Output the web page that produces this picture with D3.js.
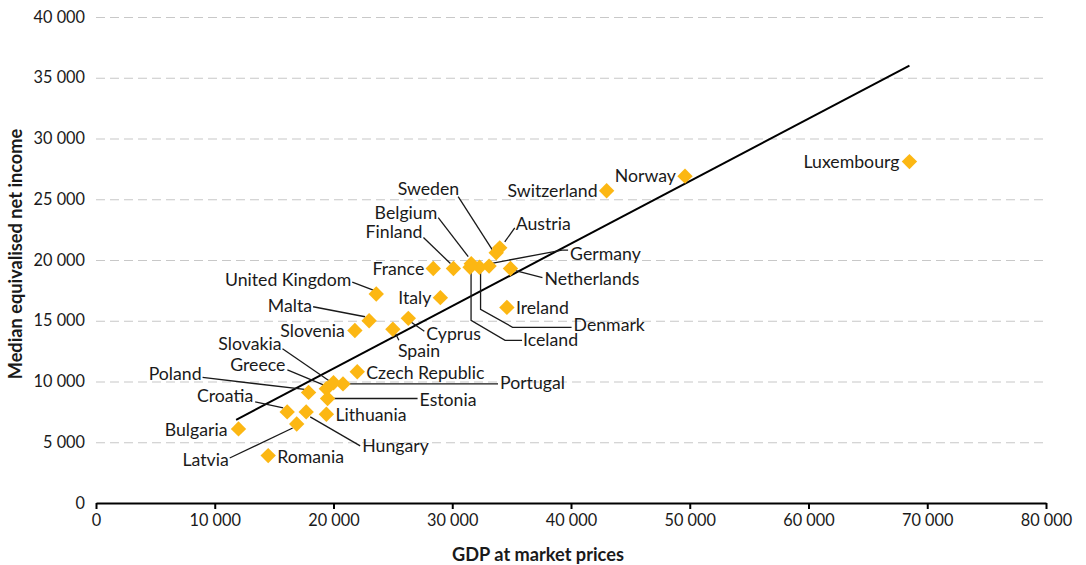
<!DOCTYPE html>
<html>
<head>
<meta charset="utf-8">
<script src="https://cdn.jsdelivr.net/npm/d3@7"></script>
<style>
    body { margin: 0; background: #fff; }
    svg { font-family: Lato, "Open Sans", sans-serif; }
    .label { font-size: 17.7px; fill: #1a1a1a; }
    .leader { fill: none; stroke: #1a1a1a; stroke-width: 1.3; }
    .axis-title { font-size: 18.2px; font-weight: bold; fill: #1a1a1a; }
</style>
</head>
<body>
<div id="chart"></div>
<script>
// Countries with GDP at market prices (x) and median equivalised net income (y)
const countries = ['Luxembourg', 'Norway', 'Switzerland', 'Austria', 'Sweden', 'Netherlands',
    'Germany', 'Denmark', 'Belgium', 'Iceland', 'Finland', 'France', 'Ireland', 'Italy',
    'United Kingdom', 'Malta', 'Cyprus', 'Spain', 'Slovenia', 'Czech Republic', 'Portugal',
    'Slovakia', 'Greece', 'Poland', 'Estonia', 'Lithuania', 'Hungary', 'Croatia', 'Latvia',
    'Bulgaria', 'Romania'];
const gdp = [68500, 49600, 43000, 34000, 33700, 34900,
    33100, 32300, 31600, 31500, 30100, 28400, 34600, 29000,
    23600, 23000, 26300, 25000, 21800, 22000, 20800,
    20000, 19400, 17900, 19500, 19400, 17700, 16100, 16900,
    12000, 14500];
const income = [28100, 26900, 25700, 21000, 20600, 19300,
    19500, 19400, 19700, 19400, 19300, 19300, 16100, 16900,
    17200, 15000, 15200, 14300, 14200, 10800, 9800,
    9900, 9400, 9100, 8600, 7300, 7500, 7500, 6500,
    6100, 3900];
// fitted trend line end points
const trendX = [11800, 68500];
const trendY = [6850, 36000];

const xTicks = [0, 10000, 20000, 30000, 40000, 50000, 60000, 70000, 80000];
const yTicks = [0, 5000, 10000, 15000, 20000, 25000, 30000, 35000, 40000];

// label placement, pixel offsets from the marker centre
const labelLayout = {
    'Luxembourg': { dx: -10, dy: 0, anchor: 'end' },
    'Norway': { dx: -9, dy: 0, anchor: 'end' },
    'Switzerland': { dx: -9, dy: 0, anchor: 'end' },
    'France': { dx: -9, dy: 0, anchor: 'end' },
    'Italy': { dx: -9, dy: 0, anchor: 'end' },
    'Slovenia': { dx: -10, dy: 0, anchor: 'end' },
    'Bulgaria': { dx: -11, dy: 1, anchor: 'end' },
    'Ireland': { dx: 9, dy: 0, anchor: 'start' },
    'Czech Republic': { dx: 9, dy: 1, anchor: 'start' },
    'Lithuania': { dx: 9, dy: 0, anchor: 'start' },
    'Romania': { dx: 9, dy: 1, anchor: 'start' },
    'Austria': { dx: 16, dy: -24, anchor: 'start', leader: [[5, -6], [15, -20]] },
    'Sweden': { dx: -37, dy: -64, anchor: 'end', leader: [[-4, -3], [-38, -56]] },
    'Belgium': { dx: -34, dy: -51, anchor: 'end', leader: [[-3, -7], [-33, -46]] },
    'Finland': { dx: -31, dy: -37, anchor: 'end', leader: [[-3, -5], [-30, -31]] },
    'Germany': { dx: 81, dy: -12, anchor: 'start', leader: [[4, -3], [73, -16], [79, -16]] },
    'Netherlands': { dx: 34, dy: 10, anchor: 'start', leader: [[5, 2], [32, 9]] },
    'Denmark': { dx: 94, dy: 58, anchor: 'start', leader: [[1, 3], [1, 42], [33, 60], [92, 60]] },
    'Iceland': { dx: 53, dy: 73, anchor: 'start', leader: [[1, 3], [1, 53], [35, 73], [52, 73]] },
    'United Kingdom': { dx: -25, dy: -14, anchor: 'end', leader: [[-3, -4], [-24, -12]] },
    'Malta': { dx: -57, dy: -15, anchor: 'end', leader: [[-4, -4], [-56, -14]] },
    'Cyprus': { dx: 18, dy: 15, anchor: 'start', leader: [[3, 4], [16, 13]] },
    'Spain': { dx: 5, dy: 22, anchor: 'start', leader: [[2, 3], [6, 11]] },
    'Slovakia': { dx: -52, dy: -39, anchor: 'end', leader: [[-3, -1], [-51, -34]] },
    'Greece': { dx: -41, dy: -24, anchor: 'end', leader: [[-3, -4], [-39, -19]] },
    'Poland': { dx: -107, dy: -19, anchor: 'end', leader: [[-4, -3], [-106, -15]] },
    'Portugal': { dx: 157, dy: -1, anchor: 'start', leader: [[5, 0], [155, 0]] },
    'Estonia': { dx: 92, dy: 1, anchor: 'start', leader: [[5, 0], [90, 0]] },
    'Croatia': { dx: -34, dy: -16, anchor: 'end', leader: [[-4, -4], [-32, -10]] },
    'Hungary': { dx: 56, dy: 34, anchor: 'start', leader: [[4, 5], [54, 34]] },
    'Latvia': { dx: -68, dy: 36, anchor: 'end', leader: [[-4, 4], [-67, 34]] }
};

const width = 1086;
const height = 565;
const margin = { top: 17, right: 40, bottom: 62, left: 96 };

const svg = d3.select('#chart')
    .append('svg')
    .attr('width', width)
    .attr('height', height);

const x = d3.scaleLinear().domain([0, 80000]).range([margin.left, width - margin.right]);
const y = d3.scaleLinear().domain([0, 40000]).range([height - margin.bottom, margin.top]);

const fmt = d => d3.format(',')(d).replace(/,/g, ' ');

// gridlines + y tick labels
const yAxis = svg.append('g')
    .attr('transform', `translate(${margin.left},0)`)
    .call(d3.axisLeft(y).tickValues(yTicks).tickFormat(fmt)
        .tickSize(-(width - margin.left - margin.right)).tickPadding(11));
yAxis.select('.domain').remove();
yAxis.selectAll('.tick line')
    .attr('stroke', '#c8c8c8')
    .attr('stroke-width', 1.2)
    .attr('stroke-dasharray', '9,5');
yAxis.selectAll('.tick text')
    .attr('font-size', 16.3)
    .attr('font-family', 'Lato, sans-serif')
    .attr('fill', '#1a1a1a');

// x axis
const xAxis = svg.append('g')
    .attr('transform', `translate(0,${y(0)})`)
    .call(d3.axisBottom(x).tickValues(xTicks).tickFormat(fmt).tickSize(6).tickSizeOuter(0).tickPadding(5));
xAxis.select('.domain').attr('stroke', '#000').attr('stroke-width', 2.2);
xAxis.selectAll('.tick line').attr('stroke', '#000').attr('stroke-width', 2);
xAxis.selectAll('.tick text')
    .attr('font-size', 16.3)
    .attr('font-family', 'Lato, sans-serif')
    .attr('fill', '#1a1a1a');

// trend line
svg.append('line')
    .attr('x1', x(trendX[0])).attr('y1', y(trendY[0]))
    .attr('x2', x(trendX[1])).attr('y2', y(trendY[1]))
    .attr('stroke', '#000')
    .attr('stroke-width', 2);

const points = countries.map((name, i) => ({ name, gx: x(gdp[i]), gy: y(income[i]) }));

// leader lines
svg.append('g')
    .selectAll('path')
    .data(points.filter(p => labelLayout[p.name].leader))
    .join('path')
    .attr('class', 'leader')
    .attr('d', p => d3.line()(labelLayout[p.name].leader.map(o => [p.gx + o[0], p.gy + o[1]])));

// markers
svg.append('g')
    .selectAll('path')
    .data(points)
    .join('path')
    .attr('d', d3.symbol(d3.symbolSquare, 118))
    .attr('transform', p => `translate(${p.gx},${p.gy}) rotate(45)`)
    .attr('fill', '#fcb713');

// labels
svg.append('g')
    .selectAll('text')
    .data(points)
    .join('text')
    .attr('class', 'label')
    .attr('x', p => p.gx + labelLayout[p.name].dx)
    .attr('y', p => p.gy + labelLayout[p.name].dy)
    .attr('dy', '0.35em')
    .attr('text-anchor', p => labelLayout[p.name].anchor)
    .text(p => p.name);

// axis titles
svg.append('text')
    .attr('class', 'axis-title')
    .attr('x', 538)
    .attr('y', 561)
    .attr('text-anchor', 'middle')
    .text('GDP at market prices');

svg.append('text')
    .attr('class', 'axis-title')
    .attr('transform', `translate(22,254) rotate(-90)`)
    .attr('text-anchor', 'middle')
    .text('Median equivalised net income');
</script>
</body>
</html>
